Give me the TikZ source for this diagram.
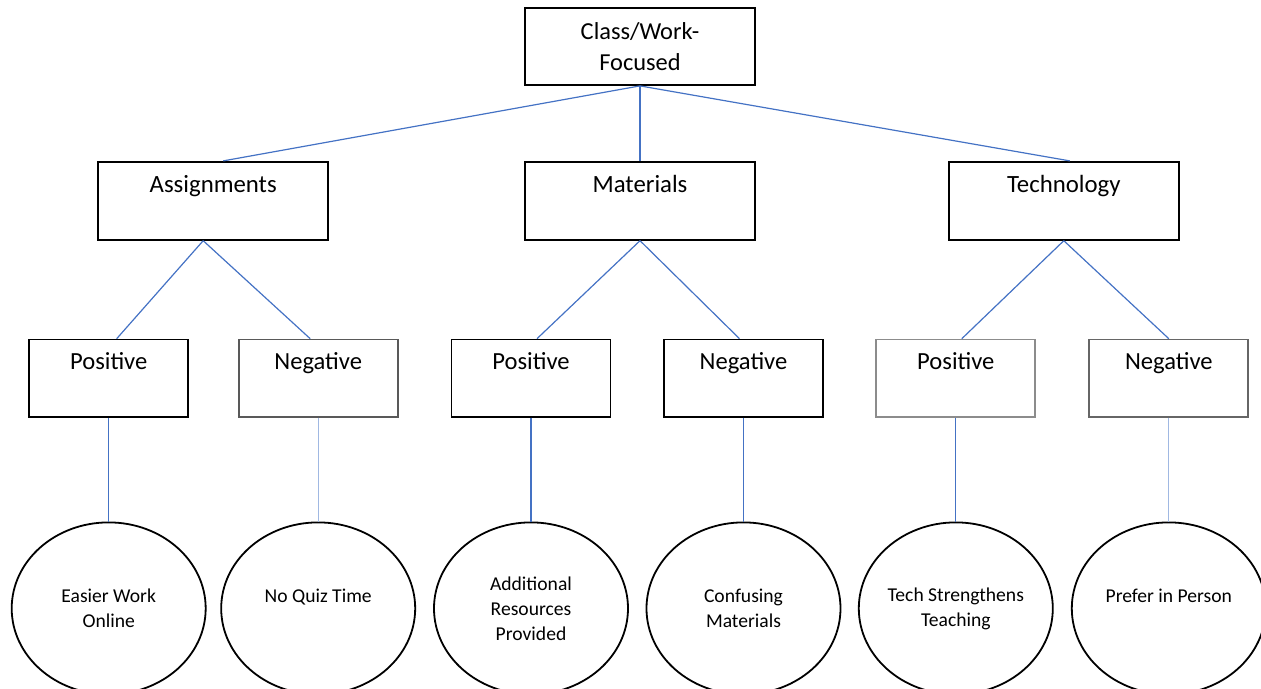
\documentclass[tikz,border=0pt]{standalone}
\usepackage{fontspec}
\setmainfont{Carlito}
\usepackage{tikz}
\usetikzlibrary{arrows,shapes.geometric,positioning}
\definecolor{linkblue}{RGB}{68,114,196}
\definecolor{paleblue}{RGB}{160,184,226}

\begin{document}
\begin{tikzpicture}[auto,node distance=40pt,semithick,
                rootbox/.style={draw,line width=0.9pt,minimum width=115pt,minimum height=38.5pt,
                    align=center,font=\fontsize{12.2}{15.5}\selectfont},
                catbox/.style={draw,line width=0.9pt,minimum width=115pt,inner sep=0pt,
                    text height=15.5pt,text depth=23.5pt,font=\fontsize{12.4}{14}\selectfont},
                signbox/.style={draw,line width=0.9pt,minimum width=79.5pt,inner sep=0pt,
                    text height=15pt,text depth=23.5pt,font=\fontsize{12.3}{14}\selectfont},
                leaf/.style={ellipse,draw,line width=0.9pt,minimum width=97pt,minimum height=86pt,
                    inner sep=0pt,align=center,font=\fontsize{9.8}{12.5}\selectfont},
                link/.style={draw=linkblue,line width=0.6pt},
                palelink/.style={draw=paleblue,line width=0.6pt}]
            \useasboundingbox (-320pt,23.25pt) rectangle (310.5pt,-321.25pt);
            \node [rootbox]  (top)                                      {Class/Work-\\Focused};
            \node [catbox]   (mat)  [below=37.5pt of top]               {Materials};
            \node [catbox]   (ass)  [left=97.5pt of mat]                {Assignments};
            \node [catbox]   (tec)  [right=96pt of mat]                 {Technology};
            \node [signbox]  (apos) [below=49pt of ass,xshift=-52.25pt] {Positive};
            \node [signbox,draw=black!65] (aneg) [below=49pt of ass,xshift=52.5pt] {Negative};
            \node [signbox]  (mpos) [below=49pt of mat,xshift=-54.5pt]  {Positive};
            \node [signbox]  (mneg) [below=49pt of mat,xshift=51.75pt]  {Negative};
            \node [signbox,draw=black!45] (tpos) [below=49pt of tec,xshift=-54pt] {Positive};
            \node [signbox,draw=black!60] (tneg) [below=49pt of tec,xshift=52.5pt] {Negative};
            \node [leaf]     (easy) [below=52pt of apos]                {Easier Work\\Online};
            \node [leaf]     (quiz) [below=52pt of aneg]                {No Quiz Time\\\mbox{}};
            \node [leaf]     (more) [below=52pt of mpos]                {Additional\\Resources\\Provided};
            \node [leaf]     (conf) [below=52pt of mneg]                {Confusing\\Materials};
            \node [leaf]     (tech) [below=52pt of tpos]                {Tech Strengthens\\Teaching};
            \node [leaf]     (pers) [below=52pt of tneg]                {Prefer in Person\\\mbox{}};
            \path[link] (top.south) edge ([xshift=5pt]ass.north)
                                    edge (mat.north)
                                    edge ([xshift=3pt]tec.north)
            ([xshift=-5pt]ass.south) edge ([xshift=4pt]apos.north)
                                     edge ([xshift=-4pt]aneg.north)
            (mat.south) edge ([xshift=3pt]mpos.north)
                        edge ([xshift=-2pt]mneg.north)
            (tec.south) edge ([xshift=3pt]tpos.north)
                        edge (tneg.north)
            (apos) edge (easy)
            (mpos) edge (more)
            (mneg) edge (conf)
            (tpos) edge (tech);
            \path[palelink] (aneg) edge (quiz)
            (tneg) edge (pers);
        \end{tikzpicture}
\end{document}
